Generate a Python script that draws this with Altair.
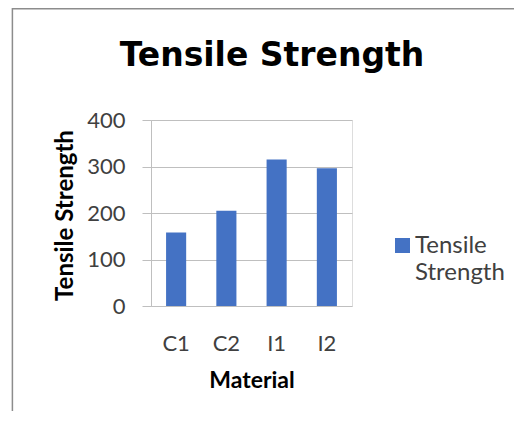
import altair as alt
import pandas as pd

materials = ["C1", "C2", "I1", "I2"]
strength = [158, 205, 315, 296]
series_name = "Tensile Strength"
chart_title = "Tensile Strength"

df = pd.DataFrame({"Material": materials, "Tensile Strength": strength})
legend_df = pd.DataFrame({"series": [series_name]})
title_df = pd.DataFrame({"title": [chart_title]})

BAR = "#4472C4"
GRID = "#bfbfbf"
FONT = "Lato"
LABEL = "#404040"

bars = alt.Chart(df).mark_bar(color=BAR).encode(
    x=alt.X("Material:N", sort=materials,
            scale=alt.Scale(paddingInner=0.6, paddingOuter=0.3),
            axis=alt.Axis(title="Material", labelAngle=0, domain=False, ticks=False,
                          labelPadding=44, labelBaseline="alphabetic",
                          labelFontSize=22, labelColor=LABEL,
                          labelFont=FONT, titleFont=FONT, titleFontSize=23,
                          titleFontWeight="bold", titleColor="#000000",
                          titleY=81, titleBaseline="alphabetic")),
    y=alt.Y("Tensile Strength:Q", scale=alt.Scale(domain=[0, 400], nice=False),
            axis=alt.Axis(title="Tensile Strength", values=[0, 100, 200, 300, 400],
                          grid=True, gridColor=GRID, gridWidth=1,
                          domain=True, domainColor=GRID, domainWidth=1,
                          ticks=True, tickSize=9, tickColor=GRID, tickWidth=1,
                          labelPadding=17, labelFontSize=22, labelColor=LABEL,
                          labelFont=FONT, titleFont=FONT, titleFontSize=24,
                          titleFontWeight="bold", titleColor="#000000",
                          titleX=-79, titleY=95, titleAngle=270,
                          titleAlign="center", titleBaseline="alphabetic")),
)

legend_sq = alt.Chart(legend_df).mark_square(size=225, opacity=1).encode(
    x=alt.value(251.5), y=alt.value(125.5), color=alt.value(BAR)
)
legend_txt = alt.Chart(legend_df).transform_calculate(
    lines="split(datum.series, ' ')"
).mark_text(align="left", baseline="alphabetic", fontSize=24, font=FONT,
            lineHeight=27, color=LABEL).encode(
    x=alt.value(264), y=alt.value(133.3), text="lines:N"
)

title_txt = alt.Chart(title_df).mark_text(
    align="center", baseline="alphabetic", fontSize=33, font="DejaVu Sans",
    fontWeight="bold", color="#000000"
).encode(x=alt.value(121), y=alt.value(-54), text="title:N")

frame = alt.Chart(legend_df).mark_rect(fill="transparent", stroke="#8c8c8c",
                                      strokeWidth=1.5).encode(
    x=alt.value(-138.6), x2=alt.value(1000), y=alt.value(-111.2), y2=alt.value(1000)
)

chart = alt.layer(frame, bars, legend_sq, legend_txt, title_txt).properties(
    width=201, height=186,
    autosize=alt.AutoSizeParams(type="none"),
    padding={"left": 143, "top": 112, "right": 162, "bottom": 105},
).configure_view(stroke="transparent", strokeWidth=0).configure(background="white")

chart.save("out.html", embed_options={"renderer": "svg", "actions": False})
